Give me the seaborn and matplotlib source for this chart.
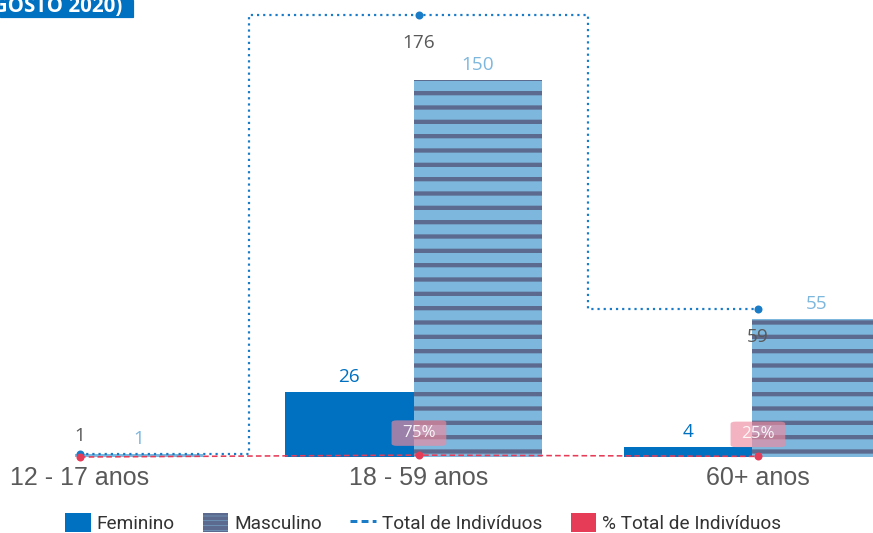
import numpy as np
import pandas as pd
import matplotlib
matplotlib.use("Agg")
import matplotlib.pyplot as plt
import seaborn as sns
from matplotlib.patches import Patch, Rectangle
from matplotlib.lines import Line2D

# ---------------- data ----------------
categories = ["12 - 17 anos", "18 - 59 anos", "60+ anos"]
feminino = [0, 26, 4]
masculino = [1, 150, 55]
total_individuos = [1, 176, 59]
pct_total = [0, 75, 25]
series_names = ["Feminino", "Masculino"]
legend_labels = ["Feminino", "Masculino", "Total de Indivíduos", "% Total de Indivíduos"]
title_fragment = "AGOSTO 2020)"

# ---------------- style ----------------
DPI = 86
W, H = 873, 533


def pt(px):
    return px * 72.0 / DPI


C_FEM = "#0070c0"
C_MASC = "#7db7dd"
C_STRIPE = "#5b6a8e"
C_TOTAL = "#1a7cc7"
C_PCT = "#e63c58"
C_PCT_BOX = (0.937, 0.541, 0.620, 0.65)
C_GRAY = "#595959"

sns.set_theme(style="white")
plt.rcParams["font.family"] = ["Open Sans", "DejaVu Sans"]
plt.rcParams["hatch.linewidth"] = pt(4.3)
plt.rcParams["hatch.color"] = C_STRIPE

fig = plt.figure(figsize=(W / DPI, H / DPI), dpi=DPI)
base_px = 457
ax = fig.add_axes([0, (H - base_px) / H, 1, base_px / H])
ax.patch.set_alpha(0)

df = pd.DataFrame({
    "categoria": categories * 2,
    "sexo": [series_names[0]] * len(categories) + [series_names[1]] * len(categories),
    "valor": feminino + masculino,
})

sns.barplot(data=df, x="categoria", y="valor", hue="sexo", hue_order=series_names,
            palette={series_names[0]: C_FEM, series_names[1]: C_MASC},
            width=0.758, dodge=True, saturation=1, legend=False, ax=ax,
            linewidth=0, zorder=1)

fem_bars, masc_bars = ax.containers[0], ax.containers[1]
for bar in masc_bars:
    bar.set_hatch("-")
    bar.set_edgecolor(C_STRIPE)
    bar.set_linewidth(0)
    if hasattr(bar, "set_hatch_linewidth"):
        bar.set_hatch_linewidth(pt(4.3))

# bar value labels
for bars, vals, col in [(fem_bars, feminino, C_FEM), (masc_bars, masculino, C_MASC)]:
    for bar, v in zip(bars, vals):
        if v <= 0:
            continue
        ax.annotate(f"{v}", (bar.get_x() + bar.get_width() / 2, bar.get_height()),
                    xytext=(0, pt(15)), textcoords="offset points",
                    ha="center", va="center", color=col, fontsize=pt(19), zorder=6)

shift = 0.016
xpos = np.arange(len(categories)) + shift

# total (step line, dotted)
sns.lineplot(x=xpos, y=total_individuos, ax=ax, color=C_TOTAL, drawstyle="steps-mid",
             linestyle=(0, (1, 1.8)), linewidth=pt(2.2), marker="o", markersize=pt(8),
             markeredgewidth=0, zorder=4, clip_on=False)
for x, v in zip(xpos, total_individuos):
    off = pt(18) if v < 20 else -pt(28)
    ax.annotate(f"{v}", (x, v), xytext=(0, off), textcoords="offset points",
                ha="center", va="center", color=C_GRAY, fontsize=pt(19), zorder=6)

# % total line
pct_frac = np.array(pct_total) / 100.0
sns.lineplot(x=xpos, y=pct_frac, ax=ax, color=C_PCT, linestyle=(0, (3.5, 2)),
             linewidth=pt(1.6), marker="o", markersize=pt(8), markeredgewidth=0,
             zorder=5, clip_on=False)
for x, p, pf in zip(xpos, pct_total, pct_frac):
    if p <= 0:
        continue
    ax.annotate(f"{p}%", (x, pf), xytext=(0, pt(22)), textcoords="offset points",
                ha="center", va="center", color=(1, 1, 1, 0.9), fontsize=pt(17), zorder=7,
                bbox=dict(boxstyle="round,pad=0.62,rounding_size=0.3",
                          mutation_aspect=0.45, fc=C_PCT_BOX, ec="none"))

ax.set_xlim(-74.5 / 339, (W - 74.5) / 339)
ax.set_ylim(0, base_px / 2.513)
ax.set_xticks(xpos, categories)
ax.set_yticks([])
ax.set_xlabel("")
ax.set_ylabel("")
ax.tick_params(axis="x", length=0, pad=pt(9), labelsize=pt(25), labelcolor=C_GRAY)
for lab in ax.get_xticklabels():
    lab.set_fontfamily(["Liberation Sans", "DejaVu Sans"])
sns.despine(ax=ax, left=True, bottom=True)

# title fragment box (cropped at the top-left, as in the source)
fig.add_artist(Rectangle((0, 1 - 17 / H), 133 / W, 17 / H, transform=fig.transFigure,
                         color=C_FEM, zorder=10))
fig.text(122 / W, 1 - 12.3 / H, title_fragment, ha="right", va="baseline", color="white",
         fontsize=pt(20.5), fontweight="bold", zorder=11)

# legend
h_fem = Patch(facecolor=C_FEM, edgecolor="none")
h_masc = Patch(facecolor=C_MASC, edgecolor=C_STRIPE, hatch="---", linewidth=0)
if hasattr(h_masc, "set_hatch_linewidth"):
    h_masc.set_hatch_linewidth(pt(2))
h_tot = Line2D([], [], color=C_TOTAL, linestyle=(0, (2.3, 1.4)), linewidth=pt(3))
h_pct = Patch(facecolor=C_PCT, edgecolor="none")
leg = fig.legend([h_fem, h_masc, h_tot, h_pct], legend_labels, loc="center",
                 bbox_to_anchor=(423 / W, 10 / H), ncol=4, frameon=False,
                 prop={"family": ["Roboto", "DejaVu Sans"], "size": pt(19)},
                 handlelength=1.35, handleheight=1.15, handletextpad=0.3,
                 columnspacing=1.5, borderpad=0, labelcolor="#333333")

fig.savefig("out.png", dpi=DPI)
